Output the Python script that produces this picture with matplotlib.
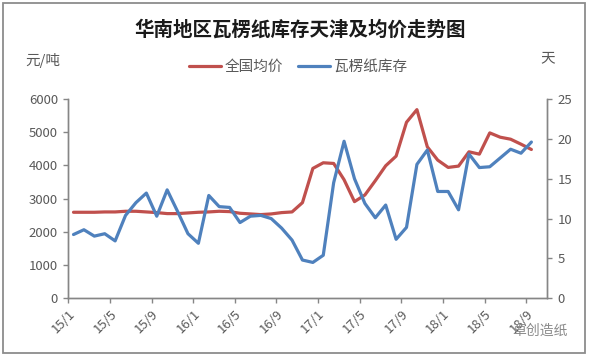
import numpy as np
import matplotlib
matplotlib.use("Agg")
import matplotlib.pyplot as plt
from matplotlib.patches import Rectangle

plt.rcParams['font.family'] = ['Noto Sans CJK SC', 'DejaVu Sans']

# ---- data ----
title = "华南地区瓦楞纸库存天津及均价走势图"
series_names = ["全国均价", "瓦楞纸库存"]
tick_labels = ["15/1", "15/5", "15/9", "16/1", "16/5", "16/9",
               "17/1", "17/5", "17/9", "18/1", "18/5", "18/9"]
# monthly 15/1 .. 18/9
price = [2590, 2590, 2590, 2600, 2600, 2620, 2620, 2600, 2580, 2550,
         2550, 2570, 2590, 2600, 2620, 2610, 2560, 2540, 2520, 2540,
         2580, 2600, 2880, 3910, 4080, 4060, 3570, 2910, 3110, 3540,
         3990, 4280, 5300, 5680, 4560, 4160, 3940, 3980, 4410, 4340,
         4980, 4850, 4790, 4640, 4480]
stock = [8.0, 8.6, 7.8, 8.1, 7.2, 10.4, 12.0, 13.2, 10.3, 13.6,
         10.9, 8.1, 6.9, 12.9, 11.5, 11.4, 9.5, 10.3, 10.4, 10.0,
         8.8, 7.3, 4.8, 4.5, 5.4, 14.5, 19.7, 15.0, 11.9, 10.1,
         11.7, 7.4, 8.9, 16.8, 18.6, 13.4, 13.4, 11.1, 18.1, 16.4,
         16.5, 17.6, 18.7, 18.2, 19.6]
left_unit = "元/吨"
right_unit = "天"
watermark = "卓创造纸"

red = "#C0504D"
blue = "#4F81BD"
gray = "#868686"
txt = "#595959"

fig = plt.figure(figsize=(5.95, 3.56), dpi=100)
fig.patch.set_facecolor("white")
ax = fig.add_axes([68.3 / 595, 1 - 298.3 / 356, (547 - 68.3) / 595, (298.3 - 99) / 356])
ax2 = ax.twinx()

x = np.arange(len(price)) + 0.5
l1, = ax.plot(x, price, color=red, lw=2.3, label=series_names[0], solid_capstyle="round")
l2, = ax2.plot(x, stock, color=blue, lw=2.3, label=series_names[1], solid_capstyle="round")

ax.set_xlim(0, 46)
ax.set_ylim(0, 6000)
ax2.set_ylim(0, 25)
ax.set_yticks(np.arange(0, 6001, 1000))
ax2.set_yticks(np.arange(0, 26, 5))
ax.set_xticks(np.arange(0, 4 * len(tick_labels), 4))
ax.set_xticklabels(tick_labels, rotation=45, ha="right", va="top",
                   rotation_mode="anchor")

for a in (ax, ax2):
    for s in a.spines.values():
        s.set_color(gray)
        s.set_linewidth(1.0)
    a.spines["top"].set_visible(False)
    a.tick_params(colors=gray, labelcolor=txt, labelsize=9.5, length=3.5, width=1.0)
ax.tick_params(axis="x", pad=3)
ax.tick_params(axis="y", pad=4)
ax2.tick_params(axis="y", pad=4)

fig.text(300 / 595, 1 - 30 / 356, title, ha="center", va="center",
         fontsize=14, fontweight="bold", color="#1a1a1a")
fig.text(43 / 595, 1 - 60 / 356, left_unit, ha="center", va="center",
         fontsize=10.5, color=txt)
fig.text(548 / 595, 1 - 58 / 356, right_unit, ha="center", va="center",
         fontsize=10.5, color=txt)

fig.legend(handles=[l1, l2], labels=series_names, loc="center",
           bbox_to_anchor=(298 / 595, 1 - 67 / 356), ncol=2, frameon=False,
           fontsize=10.5, handlelength=2.2, handletextpad=0.25,
           columnspacing=1.0, labelcolor=txt)

fig.text(540 / 595, 1 - 331 / 356, watermark, ha="center", va="center",
         fontsize=10, color="#8a8a8a")

fig.patches.append(Rectangle((3 / 595, 1 - 353 / 356), 582 / 595, 350 / 356,
                             transform=fig.transFigure, fill=False,
                             edgecolor="#8c8c8c", linewidth=1.3))

fig.savefig("out.png", dpi=100, facecolor="white")
